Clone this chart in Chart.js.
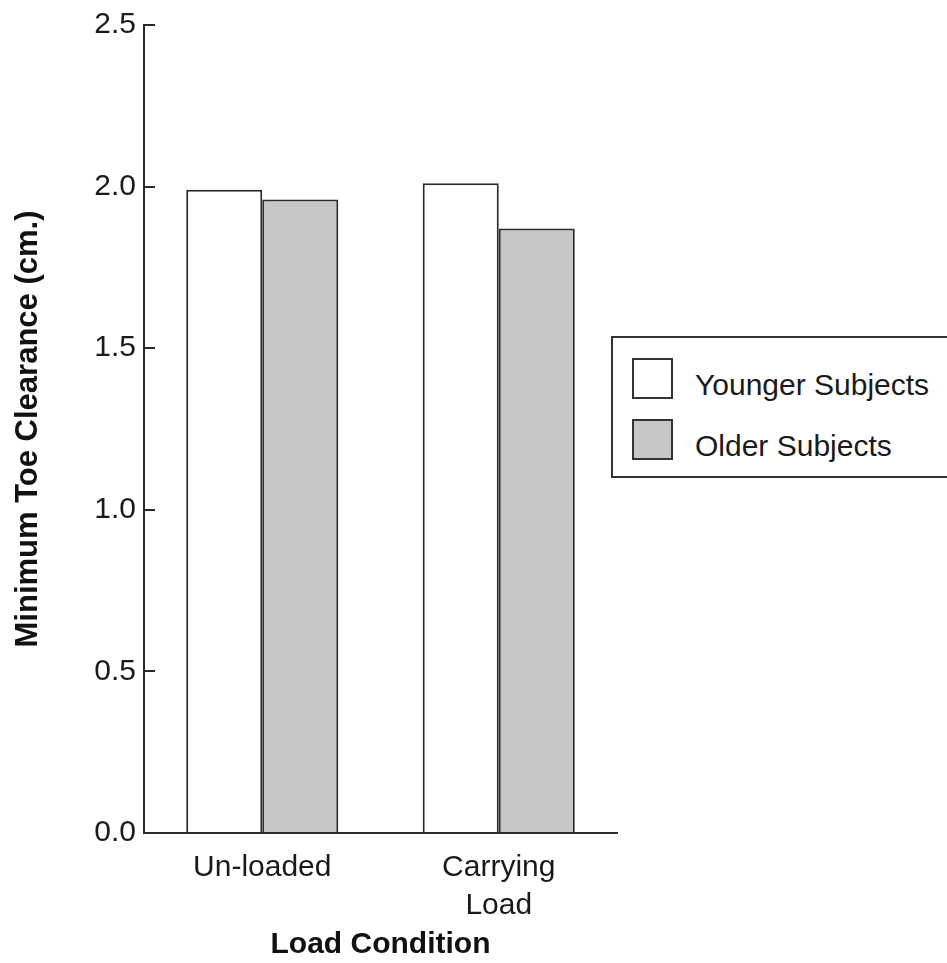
<!DOCTYPE html>
<html>
<head>
<meta charset="utf-8">
<script src="https://cdn.jsdelivr.net/npm/chart.js@4"></script>
<style>
  html, body { margin: 0; padding: 0; background: #fff; overflow: hidden; }
  #wrap { position: relative; width: 947px; height: 963px; }
  #legend {
    position: absolute; left: 611px; top: 336px; width: 345px; height: 138px;
    border: 2px solid #333; background: #fff;
    font-family: "Liberation Sans", Arial, sans-serif; font-size: 30px; color: #1a1a1a;
  }
  .item { position: absolute; left: 19px; height: 40px; line-height: 40px; }
  .sw { position: absolute; left: 0; top: 0; width: 37px; height: 37px; border: 2px solid #333; }
  .lab { position: absolute; left: 63px; top: 7px; white-space: nowrap; }
</style>
</head>
<body>
<div id="wrap">
  <canvas id="chart" width="947" height="963"></canvas>
  <div id="legend"></div>
</div>
<script>
const categories = ['Un-loaded', ['Carrying', 'Load']];
const seriesNames = ['Younger Subjects', 'Older Subjects'];
const younger = [1.99, 2.01];
const older = [1.96, 1.87];
const yTicks = [0, 0.5, 1.0, 1.5, 2.0, 2.5];
const fills = ['#ffffff', '#c6c6c6'];

const font = 'Liberation Sans, Arial, sans-serif';
const ink = '#2b2b2b';

const ctx = document.getElementById('chart').getContext('2d');

const chart = new Chart(ctx, {
  type: 'bar',
  data: {
    labels: categories,
    datasets: [
      { label: seriesNames[0], data: younger, backgroundColor: fills[0], borderColor: ink, borderWidth: 2,
        categoryPercentage: 0.643, barPercentage: 1.0 },
      { label: seriesNames[1], data: older, backgroundColor: fills[1], borderColor: ink, borderWidth: 2,
        categoryPercentage: 0.643, barPercentage: 1.0 }
    ]
  },
  options: {
    animation: false,
    responsive: false,
    layout: { padding: { left: 10, right: 330, top: 25, bottom: 0 } },
    plugins: { legend: { display: false }, tooltip: { enabled: false } },
    scales: {
      x: {
        grid: { display: false },
        border: { display: true, color: ink, width: 2 },
        ticks: { color: '#1a1a1a', font: { family: font, size: 30, lineHeight: 1.25 }, padding: 8, maxRotation: 0 },
        title: { display: true, text: 'Load Condition', color: '#111',
                 font: { family: font, size: 30, weight: 'bold' }, padding: { top: 4, bottom: 0 } },
        afterFit: (s) => { s.height = 130; }
      },
      y: {
        min: 0, max: 2.5,
        afterBuildTicks: (s) => { s.ticks = yTicks.map(v => ({ value: v })); },
        grid: { drawOnChartArea: false, drawTicks: true, tickLength: -11, color: ink, lineWidth: 2 },
        border: { display: true, color: ink, width: 2 },
        ticks: { color: '#1a1a1a', font: { family: font, size: 30, lineHeight: 0.4 }, padding: 19,
                 callback: (v) => Number(v).toFixed(1) },
        title: { display: true, text: 'Minimum Toe Clearance (cm.)', color: '#111',
                 font: { family: font, size: 31, weight: 'bold' }, padding: 0 },
        afterFit: (s) => { s.width = 134; }
      }
    }
  }
});

// legend drawn as html box to the right of the plot
const legend = document.getElementById('legend');
seriesNames.forEach((name, i) => {
  const item = document.createElement('div');
  item.className = 'item';
  item.style.top = (20 + i * 61) + 'px';
  item.innerHTML = '<div class="sw" style="background:' + fills[i] + '"></div><span class="lab">' + name + '</span>';
  legend.appendChild(item);
});
</script>
</body>
</html>
